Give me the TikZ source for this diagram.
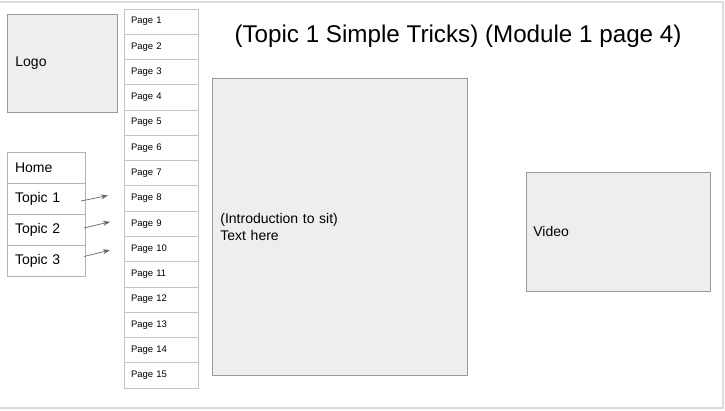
\documentclass[tikz,border=0pt]{standalone}
\usepackage{fontspec}
\setmainfont{Liberation Sans}
\usetikzlibrary{positioning, arrows.meta}

\definecolor{boxfill}{HTML}{EEEEEE}
\definecolor{boxline}{HTML}{999999}
\definecolor{listline}{HTML}{C4C4C4}
\definecolor{navline}{HTML}{B4B4B4}
\definecolor{linkgray}{HTML}{666666}
\definecolor{framegray}{HTML}{DCDCDC}

\begin{document}
\begin{tikzpicture}[
    x=1pt, y=-1pt,
    panel/.style={rectangle, draw=boxline, fill=boxfill, line width=0.8pt, inner xsep=8pt, inner ysep=0pt, align=left, font=\fontsize{14}{17}\selectfont},
    pagebox/.style={rectangle, draw=listline, fill=white, line width=0.8pt, outer sep=0pt, minimum width=74pt, text width=60pt, inner xsep=7pt, minimum height=25.27pt, inner ysep=0pt, font=\fontsize{9.5}{11}\selectfont},
    navbox/.style={rectangle, draw=navline, fill=white, line width=0.8pt, outer sep=0pt, text width=62pt, inner xsep=8pt, minimum height=31pt, inner ysep=0pt, font=\fontsize{14}{17}\selectfont},
    link/.style={-{Stealth[length=7pt, width=5pt]}, draw=linkgray, line width=0.7pt},
    heading/.style={font=\fontsize{24.2}{28}\selectfont}
]
\useasboundingbox (0,0) rectangle (725,411);
\draw[framegray, line width=1.5pt] (0,2) -- (723,2) -- (723,408) -- (0,408);

\node[panel, text width=94pt, minimum height=98pt, anchor=north west] (logo) at (7,14) {Logo};

% page list
\node[pagebox, anchor=north west] (page1) at (124,9) {Page 1};
\foreach \i [evaluate=\i as \prev using int(\i-1)] in {2,...,15}
    \node[pagebox, below=0pt of page\prev] (page\i) {Page \i};

% navigation
\node[navbox, anchor=north west] (home) at (7,152) {Home};
\node[navbox, below=0pt of home] (topic1) {Topic 1};
\node[navbox, below=0pt of topic1] (topic2) {Topic 2};
\node[navbox, below=0pt of topic2] (topic3) {Topic 3};

\draw[link] ([xshift=-4pt, yshift=-2.5pt]topic1.east) -- ([xshift=-16pt, yshift=3pt]page8.west);
\draw[link] ([xshift=-1pt, yshift=1.5pt]topic2.east) -- ([xshift=-14pt, yshift=2pt]page9.west);
\draw[link] ([xshift=-1pt, yshift=4pt]topic3.east) -- ([xshift=-14pt, yshift=-1pt]page10.west);

\node[heading] (title) at (458,36) {(Topic 1 Simple Tricks) (Module 1 page 4)};

\node[panel, text width=239pt, minimum height=297pt, anchor=north west] (intro) at (212,78) {(Introduction to sit)\\Text here};
\node[panel, inner xsep=7pt, text width=170pt, minimum height=119pt, anchor=north west] (video) at (526,172) {Video};
\end{tikzpicture}
\end{document}
